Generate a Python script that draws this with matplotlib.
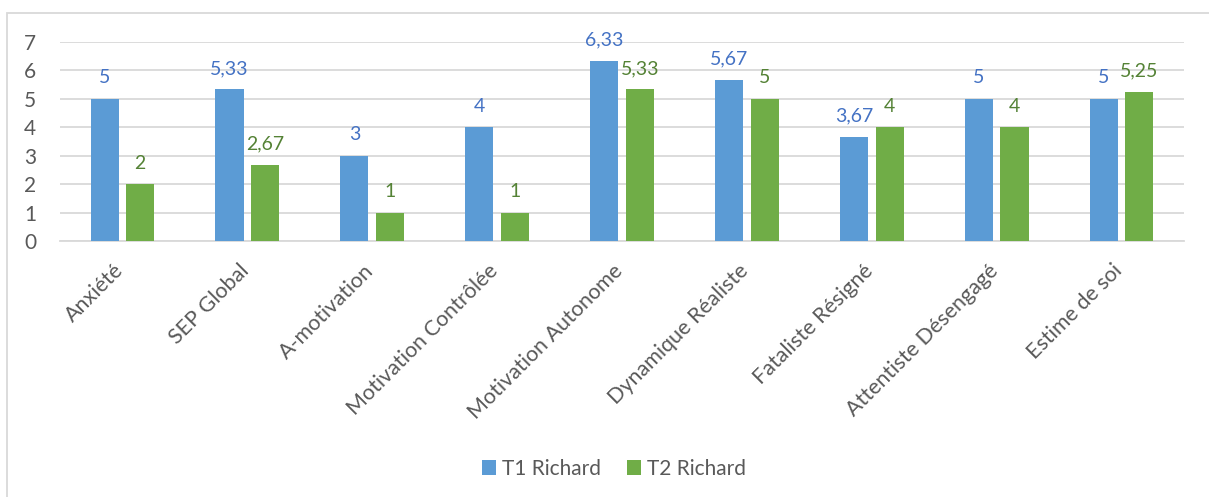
import matplotlib
matplotlib.use("Agg")
import matplotlib.pyplot as plt
from matplotlib.patches import Rectangle
from matplotlib.transforms import ScaledTranslation
import numpy as np

categories = ["Anxiété", "SEP Global", "A-motivation", "Motivation Contrôlée",
              "Motivation Autonome", "Dynamique Réaliste", "Fataliste Résigné",
              "Attentiste Désengagé", "Estime de soi"]
t1 = [5, 5.33, 3, 4, 6.33, 5.67, 3.67, 5, 5]
t2 = [2, 2.67, 1, 1, 5.33, 5, 4, 4, 5.25]
series_names = ["T1 Richard", "T2 Richard"]
yticks = [0, 1, 2, 3, 4, 5, 6, 7]

plt.rcParams['font.family'] = ['Lato', 'DejaVu Sans']

W, H = 1209, 497
fig = plt.figure(figsize=(W/100, H/100), dpi=100)
ax = fig.add_axes([60/W, 1-241/H, (1184-60)/W, (241-42)/H])

blue = "#5B9BD5"
green = "#70AD47"
blue_t = "#4472C4"
green_t = "#548235"
gray = "#595959"

x = np.arange(len(categories))
w = 0.225
gap = 0.03
b1 = ax.bar(x - w/2 - gap, t1, w, color=blue, label=series_names[0], zorder=3)
b2 = ax.bar(x + w/2 + gap, t2, w, color=green, label=series_names[1], zorder=3)

def fmt(v):
    s = f"{v:g}"
    return s.replace(".", ",")

for rects, vals, c in ((b1, t1, blue_t), (b2, t2, green_t)):
    for r, v in zip(rects, vals):
        ax.annotate(fmt(v), (r.get_x() + r.get_width()/2, v), xytext=(0, 9),
                    textcoords="offset points", ha="center", va="bottom",
                    fontsize=14, color=c)

ax.set_xlim(-0.5, len(categories) - 0.5)
ax.set_ylim(0, 7)
ax.set_yticks(yticks)
ax.yaxis.grid(True, color="#D9D9D9", linewidth=1.3, zorder=0)
ax.set_axisbelow(True)
for s in ["top", "right", "left"]:
    ax.spines[s].set_visible(False)
ax.spines["bottom"].set_color("#D9D9D9")
ax.spines["bottom"].set_linewidth(1.3)
ax.tick_params(axis="both", length=0, colors=gray)
ax.tick_params(axis="y", pad=17, labelsize=15)
ax.set_xticks(x)
ax.set_xticklabels(categories, rotation=45, ha="right", rotation_mode="anchor",
                   fontsize=15.5, color=gray)
ax.tick_params(axis="x", pad=14)
off = ScaledTranslation(-9/100, 0, fig.dpi_scale_trans)
for lab in ax.get_xticklabels():
    lab.set_transform(lab.get_transform() + off)

leg = fig.legend(loc="center", bbox_to_anchor=(614/W, 1-469/H), ncol=2,
                 frameon=False, fontsize=15, handlelength=0.7, handleheight=0.7,
                 columnspacing=1.2, handletextpad=0.3)
for t in leg.get_texts():
    t.set_color(gray)

fig.patches.append(Rectangle((7/W, -0.1), 1.2, 1 - 13/H + 0.1, transform=fig.transFigure,
                             fill=False, edgecolor="#D9D9D9", linewidth=1.3))

fig.savefig("out.png", dpi=100, facecolor="white")
